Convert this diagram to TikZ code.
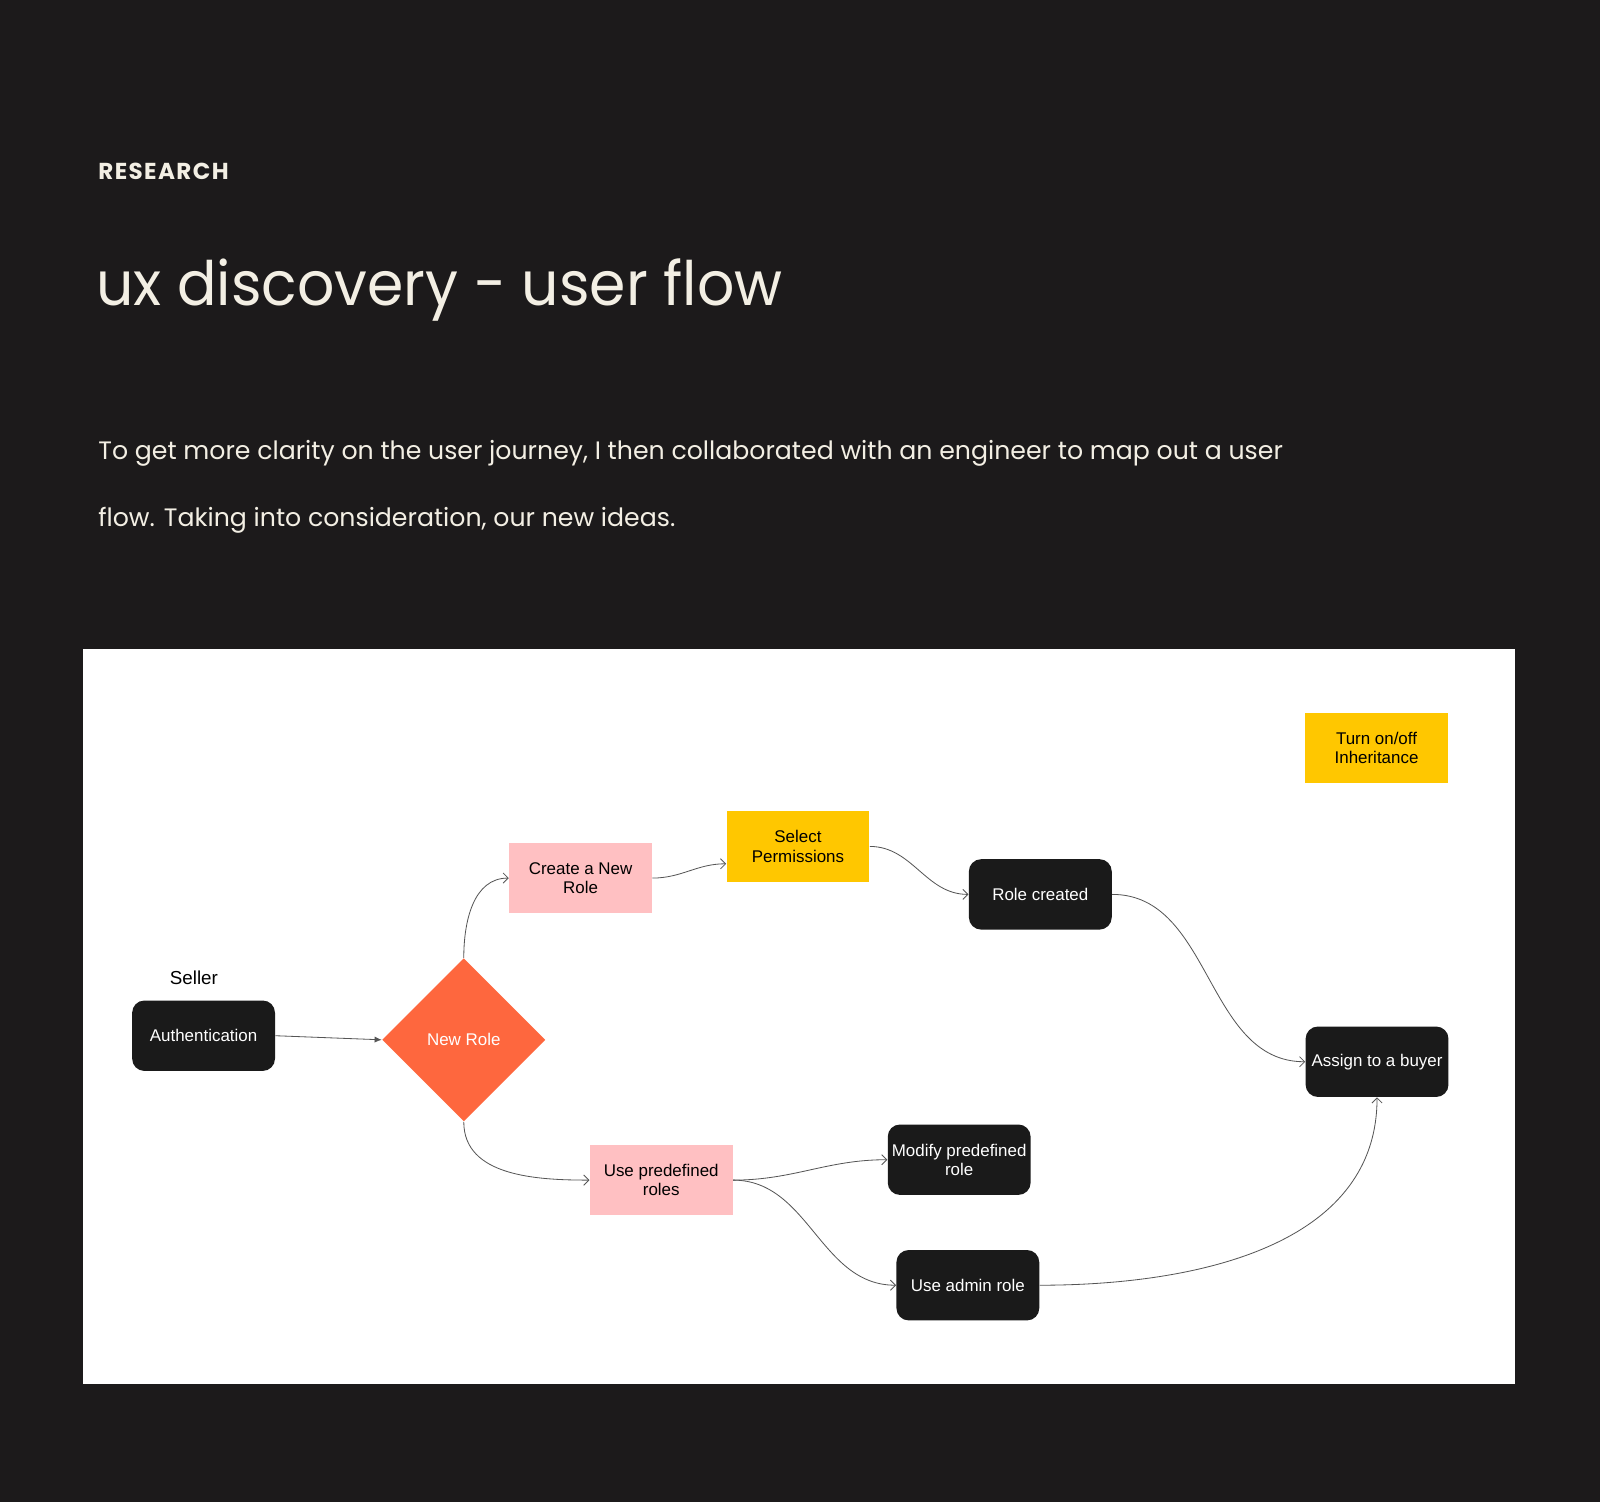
\documentclass[tikz,border=0pt]{standalone}
\usepackage{fontspec}
\setmainfont{Liberation Sans}
\newfontfamily\headfont{Poppins}
\usetikzlibrary{shapes.geometric,arrows.meta}

\definecolor{pagebg}{RGB}{28,26,27}
\definecolor{cream}{RGB}{243,239,228}
\definecolor{boxblack}{RGB}{26,26,26}
\definecolor{decisionorange}{RGB}{254,103,62}
\definecolor{notepink}{RGB}{255,192,194}
\definecolor{noteyellow}{RGB}{255,199,0}
\definecolor{linegray}{RGB}{85,85,85}

\tikzset{
  boxbase/.style={minimum width=70pt,minimum height=34.5pt,inner sep=1pt,
    align=center,font=\fontsize{8.3}{9.5}\selectfont},
  blackbox/.style={boxbase,fill=boxblack,text=white,rounded corners=6pt},
  pinkbox/.style={boxbase,fill=notepink,text=black},
  yellowbox/.style={boxbase,fill=noteyellow,text=black},
  decision/.style={diamond,fill=decisionorange,text=white,inner sep=0pt,
    minimum width=80pt,minimum height=80pt,font=\fontsize{8.3}{9.5}\selectfont},
  flow/.style={draw=linegray,line width=0.4pt,-{Straight Barb[length=2.5pt,width=5pt]}},
}

\begin{document}
\begin{tikzpicture}[x=0.5pt,y=-0.5pt]
  % page and canvas
  \fill[pagebg] (0,0) rectangle (1568,1472);
  \useasboundingbox (0,0) rectangle (1568,1472);
  \fill[white] (81,636) rectangle (1485,1356);

  % heading
  \node[anchor=base west,inner sep=0pt,text=cream,
    font=\headfont\bfseries\addfontfeature{LetterSpace=6}\fontsize{11.3}{13}\selectfont]
    (kicker) at (96,176) {RESEARCH};
  \node[anchor=base west,inner sep=0pt,text=cream,
    font=\headfont\addfontfeature{FakeStretch=0.955}\fontsize{30}{36}\selectfont]
    (title) at (94,299) {ux discovery - user flow};
  \node[anchor=base west,inner sep=0pt,text=cream,
    font=\headfont\fontsize{12.35}{14}\selectfont]
    (intro1) at (96,450) {To get more clarity on the user journey, I then collaborated with an engineer to map out a user};
  \node[anchor=base west,inner sep=0pt,text=cream,
    font=\headfont\fontsize{12.35}{14}\selectfont]
    (intro2) at (96,516) {flow. Taking into consideration, our new ideas.};

  % flow nodes
  \node[font=\fontsize{9.2}{11}\selectfont] (seller) at (190,958) {Seller};
  \node[blackbox] (auth) at (199.5,1015) {Authentication};
  \node[decision] (newrole) at (454.5,1019) {New Role};
  \node[pinkbox] (create) at (569,860.5) {Create a New\\Role};
  \node[yellowbox] (select) at (782,829.5) {Select\\Permissions};
  \node[blackbox] (rolec) at (1019.5,876.5) {Role created};
  \node[yellowbox] (inherit) at (1349,733) {Turn on/off\\Inheritance};
  \node[blackbox] (assign) at (1349.5,1040.5) {Assign to a buyer};
  \node[pinkbox] (usepre) at (648,1156.5) {Use predefined\\roles};
  \node[blackbox] (modify) at (940,1136.5) {Modify predefined\\role};
  \node[blackbox] (admin) at (948.5,1259.5) {Use admin role};

  % connectors
  \draw[draw=linegray,line width=0.4pt,-{Latex[length=3.5pt,width=3pt]}] (auth.east) -- (newrole.west);
  \draw[flow] (newrole.north) to[out=90,in=180] (create.west);
  \draw[flow] (create.east) to[out=0,in=180] ([yshift=-8.5pt]select.west);
  \draw[flow] (select.east) to[out=0,in=180] (rolec.west);
  \draw[flow] (rolec.east) to[out=0,in=180] (assign.west);
  \draw[flow] (newrole.south) to[out=270,in=180] (usepre.west);
  \draw[flow] (usepre.east) to[out=0,in=180] (modify.west);
  \draw[flow] (usepre.east) to[out=0,in=180] (admin.west);
  \draw[flow] (admin.east) to[out=0,in=270] (assign.south);
\end{tikzpicture}
\end{document}
